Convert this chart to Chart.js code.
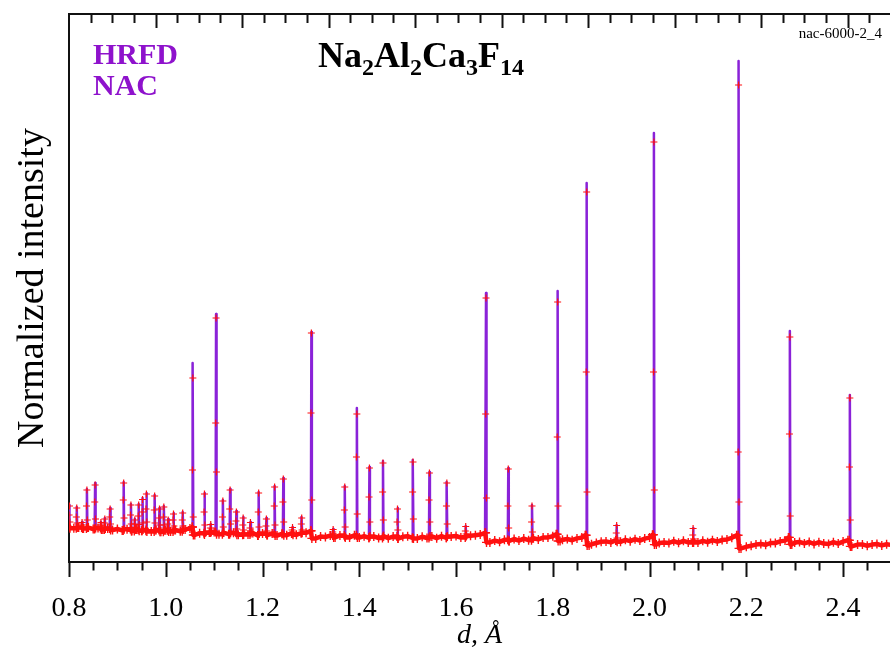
<!DOCTYPE html>
<html>
<head>
<meta charset="utf-8">
<title>Na2Al2Ca3F14 - HRFD</title>
<script src="https://cdn.jsdelivr.net/npm/chart.js@4.4.0/dist/chart.umd.min.js"></script>
<style>
  html, body { margin: 0; padding: 0; background: #fff; overflow: hidden; }
  #wrap { width: 890px; height: 652px; }
</style>
</head>
<body>
<div id="wrap"><canvas id="pattern" width="890" height="652"></canvas></div>
<script>
// --- data ---
// d-axis tick labels (Å)
const X_TICKS = [0.8, 1.0, 1.2, 1.4, 1.6, 1.8, 2.0, 2.2, 2.4];
const X_MIN = 0.8;
const X_MAX = 2.497;
const X_MINOR = 0.05;
// top axis (time-of-flight channel units, unlabeled)
const TOP_MAX = 9.49;
const TOP_MINOR = 0.25;
const Y_MAX = 5480;

// measured background between reflections [d, intensity]
const BACKGROUND = [
  [0.800,352],[0.810,338],[0.820,346],[0.830,334],[0.840,344],[0.850,330],[0.860,340],[0.870,324],
  [0.880,336],[0.890,320],[0.900,330],[0.910,316],[0.920,328],[0.930,310],[0.940,326],[0.950,312],
  [0.960,324],[0.970,306],[0.980,320],[0.990,302],[1.000,318],[1.010,304],[1.020,320],[1.030,308],
  [1.040,326],[1.050,334],[1.055,350],
  [1.060,270],[1.070,288],[1.080,276],[1.090,296],[1.100,300],[1.110,278],[1.120,294],[1.130,278],
  [1.140,292],[1.150,272],[1.160,288],[1.170,274],[1.180,290],[1.190,266],[1.200,284],[1.210,270],
  [1.220,286],[1.230,264],[1.240,282],[1.250,268],[1.260,286],[1.270,272],[1.280,290],[1.290,292],
  [1.300,312],
  [1.310,236],[1.320,254],[1.330,250],[1.340,264],[1.350,246],[1.360,266],[1.370,254],[1.380,246],
  [1.390,268],[1.400,244],[1.410,258],[1.420,242],[1.430,256],[1.440,240],[1.450,258],[1.460,238],
  [1.470,254],[1.480,234],[1.490,252],[1.500,258],[1.510,240],[1.520,236],[1.530,252],[1.540,240],
  [1.550,256],[1.560,238],[1.570,258],[1.580,242],[1.590,254],[1.600,260],[1.610,244],[1.620,258],
  [1.630,262],[1.640,268],[1.650,274],[1.660,292],
  [1.670,196],[1.680,214],[1.690,202],[1.700,222],[1.710,210],[1.720,230],[1.730,214],[1.740,234],
  [1.750,218],[1.760,238],[1.770,226],[1.780,244],[1.790,246],[1.800,258],[1.807,278],
  [1.815,210],[1.820,222],[1.830,230],[1.840,218],[1.850,236],[1.860,244],[1.867,268],
  [1.875,166],[1.880,178],[1.890,190],[1.900,202],[1.910,206],[1.920,196],[1.930,216],[1.940,202],
  [1.950,222],[1.960,208],[1.970,228],[1.980,214],[1.990,234],[2.000,244],[2.006,272],
  [2.014,174],[2.020,190],[2.030,196],[2.040,190],[2.050,208],[2.060,192],[2.070,212],[2.080,196],
  [2.090,214],[2.100,194],[2.110,212],[2.120,198],[2.130,218],[2.140,204],[2.150,220],[2.160,226],
  [2.170,242],[2.180,268],
  [2.189,136],[2.200,152],[2.210,162],[2.220,174],[2.230,180],[2.240,172],[2.250,190],[2.260,190],
  [2.270,206],[2.280,214],[2.287,246],
  [2.294,176],[2.300,194],[2.310,200],[2.320,186],[2.330,200],[2.340,180],[2.350,198],[2.360,184],
  [2.370,180],[2.380,198],[2.390,184],[2.400,204],[2.410,218],
  [2.418,156],[2.430,174],[2.440,176],[2.450,162],[2.460,174],[2.470,180],[2.480,166],[2.490,178],
  [2.500,170]
];

// reflection positions (d, Å) and calculated peak maxima
const PEAK_D = [
  0.801, 0.816, 0.827, 0.837, 0.854, 0.866, 0.874, 0.885, 0.913, 0.928,
  0.936, 0.944, 0.952, 0.960, 0.977, 0.987, 0.996, 1.005, 1.016, 1.035,
  1.056, 1.080, 1.093, 1.104, 1.118, 1.133, 1.146, 1.160, 1.175, 1.192,
  1.208, 1.225, 1.243, 1.262, 1.281, 1.301, 1.346, 1.370, 1.395, 1.421,
  1.449, 1.479, 1.511, 1.545, 1.581, 1.620, 1.662, 1.708, 1.757, 1.810,
  1.870, 1.932, 2.009, 2.090, 2.184, 2.290, 2.414
];
const PEAK_CALC = [
  570, 550, 400, 730, 790, 400, 440, 540, 800, 580,
  430, 580, 640, 690, 670, 540, 560, 430, 490, 500,
  1990, 690, 380, 2480, 620, 730, 510, 450, 400, 700,
  440, 760, 840, 350, 450, 2300, 330, 760, 1540, 950,
  1010, 540, 1020, 900, 800, 360, 2690, 940, 570, 2710,
  3790, 370, 4290, 340, 5010, 2310, 1670
];
// observed points on each reflection: near the top, mid-slope, low on the slope
const OBS_HI = [
  560, 540, 395, 720, 770, 395, 430, 530, 790, 570,
  420, 570, 625, 680, 660, 530, 550, 420, 480, 490,
  1840, 680, 375, 2440, 610, 720, 500, 440, 395, 690,
  430, 750, 830, 345, 440, 2290, 325, 750, 1480, 940,
  990, 530, 1000, 890, 790, 355, 2640, 930, 560, 2600,
  3700, 365, 4200, 335, 4770, 2250, 1640
];
const OBS_MID = [
  470, 450, 370, 560, 600, 370, 390, 450, 620, 470,
  380, 460, 500, 530, 520, 440, 450, 380, 420, 420,
  920, 500, 340, 1390, 450, 530, 410, 370, 340, 500,
  360, 560, 600, 320, 380, 1490, 300, 520, 1050, 650,
  700, 400, 700, 620, 560, 310, 1480, 560, 400, 1250,
  1900, 290, 1900, 270, 1100, 1280, 950
];
const OBS_LO = [
  400, 390, 350, 420, 430, 345, 350, 380, 440, 380,
  345, 375, 390, 400, 390, 370, 370, 340, 360, 360,
  450, 370, 310, 900, 350, 380, 330, 320, 300, 350,
  310, 370, 400, 300, 320, 620, 280, 350, 480, 400,
  420, 320, 430, 400, 380, 280, 640, 340, 300, 560,
  700, 240, 720, 230, 600, 460, 420
];

// header texts
const INSTRUMENT = ['HRFD', 'NAC'];
const FORMULA = [['Na', '2'], ['Al', '2'], ['Ca', '3'], ['F', '14']];
const RUN_LABEL = 'nac-6000-2_4';

// --- styles ---
const SERIF = '"Liberation Serif", "Times New Roman", serif';
const OBS_RED = '#ff1010';
const CALC_PURPLE = '#8a22d8';
const LABEL_PURPLE = '#8e12cc';
const AXIS_COLOR = '#111';
const BASE_HALF = 0.001;

// --- series assembly ---
function bgBefore(d) {
  let v = BACKGROUND[0][1];
  for (const [bd, bi] of BACKGROUND) { if (bd < d) v = bi; else break; }
  return v;
}
function bgAfter(d) {
  for (const [bd, bi] of BACKGROUND) { if (bd > d) return bi; }
  return BACKGROUND[BACKGROUND.length - 1][1];
}

const basePoints = [];
const calcPoints = [];
PEAK_D.forEach((d, i) => {
  const lo = { x: d - BASE_HALF, y: bgBefore(d) };
  const hi = { x: d + BASE_HALF, y: bgAfter(d) };
  basePoints.push(lo, hi);
  calcPoints.push(lo, { x: d, y: PEAK_CALC[i] }, hi);
});
const bgPoints = BACKGROUND.map(([x, y]) => ({ x, y }));
const byX = (a, b) => a.x - b.x;

const calcSeries = bgPoints.concat(calcPoints).sort(byX);
const obsBand = bgPoints.concat(basePoints).sort(byX);
const obsPeaks = [];
PEAK_D.forEach((d, i) => {
  obsPeaks.push({ x: d, y: OBS_HI[i] });
  obsPeaks.push({ x: d - 0.0008, y: OBS_MID[i] });
  obsPeaks.push({ x: d + 0.0008, y: OBS_LO[i] });
});

// --- plugins ---
const frameTicks = {
  id: 'frameTicks',
  afterDraw(chart) {
    const { ctx, chartArea } = chart;
    const xs = chart.scales.x;
    const xt = chart.scales.x2;
    ctx.save();
    ctx.strokeStyle = AXIS_COLOR;
    ctx.lineWidth = 2;
    ctx.beginPath();
    // bottom: ticks hang below the frame
    for (let k = 0; ; k++) {
      const v = X_MIN + k * X_MINOR;
      if (v > X_MAX + 1e-9) break;
      const major = Math.abs(v / 0.2 - Math.round(v / 0.2)) < 1e-6;
      const px = Math.round(xs.getPixelForValue(v)) + 0.5;
      ctx.moveTo(px, chartArea.bottom);
      ctx.lineTo(px, chartArea.bottom + (major ? 15 : 8.5));
    }
    // top: ticks point into the plot
    for (let k = 1; ; k++) {
      const v = k * TOP_MINOR;
      if (v > TOP_MAX) break;
      const major = k % 4 === 0;
      const px = Math.round(xt.getPixelForValue(v)) + 0.5;
      ctx.moveTo(px, chartArea.top);
      ctx.lineTo(px, chartArea.top + (major ? 14 : 9));
    }
    ctx.stroke();
    ctx.restore();
  }
};

const headerTexts = {
  id: 'headerTexts',
  afterDraw(chart) {
    const ctx = chart.ctx;
    ctx.save();
    ctx.textBaseline = 'alphabetic';
    ctx.textAlign = 'left';

    ctx.fillStyle = LABEL_PURPLE;
    ctx.font = 'bold 30px ' + SERIF;
    ctx.fillText(INSTRUMENT[0], 93, 64);
    ctx.fillText(INSTRUMENT[1], 93, 95);

    ctx.fillStyle = '#000';
    let x = 318;
    FORMULA.forEach(([el, n]) => {
      ctx.font = 'bold 36px ' + SERIF;
      ctx.fillText(el, x, 67);
      x += ctx.measureText(el).width;
      ctx.font = 'bold 24px ' + SERIF;
      ctx.fillText(n, x, 75);
      x += ctx.measureText(n).width;
    });

    ctx.font = '15px ' + SERIF;
    ctx.textAlign = 'right';
    ctx.fillText(RUN_LABEL, 882, 38);
    ctx.restore();
  }
};

// horizontal axes run to the canvas edge, no room kept for edge labels
const noSidePadding = (scale) => { scale.paddingLeft = 0; scale.paddingRight = 0; };

// --- chart ---
const ctx = document.getElementById('pattern').getContext('2d');
new Chart(ctx, {
  type: 'line',
  data: {
    datasets: [
      {
        label: 'observed (peaks)',
        data: obsPeaks,
        showLine: false,
        pointStyle: 'cross',
        pointRadius: 3.5,
        pointBorderWidth: 1.2,
        pointBorderColor: OBS_RED,
        order: 1
      },
      {
        label: 'observed',
        data: obsBand,
        borderColor: OBS_RED,
        borderWidth: 4.5,
        borderJoinStyle: 'round',
        borderCapStyle: 'round',
        pointStyle: 'cross',
        pointRadius: 4.5,
        pointBorderWidth: 1.4,
        pointBorderColor: OBS_RED,
        tension: 0,
        order: 2
      },
      {
        label: 'calculated',
        data: calcSeries,
        borderColor: CALC_PURPLE,
        borderWidth: 2.5,
        borderJoinStyle: 'round',
        pointRadius: 0,
        tension: 0,
        order: 3
      }
    ]
  },
  options: {
    responsive: false,
    animation: false,
    devicePixelRatio: 1,
    layout: { padding: 0, autoPadding: false },
    plugins: { legend: { display: false }, tooltip: { enabled: false } },
    scales: {
      x: {
        type: 'linear',
        position: 'bottom',
        min: X_MIN,
        max: X_MAX,
        afterBuildTicks: (scale) => { scale.ticks = X_TICKS.map((v) => ({ value: v })); },
        afterFit: (scale) => { scale.height = 90; noSidePadding(scale); },
        grid: { display: false },
        border: { display: true, color: AXIS_COLOR, width: 2 },
        ticks: {
          color: '#000',
          font: { family: SERIF, size: 28 },
          padding: 22,
          maxRotation: 0,
          autoSkip: false,
          callback: (v) => Number(v).toFixed(1)
        },
        title: {
          display: true,
          text: 'd, Å',
          color: '#000',
          font: { family: SERIF, size: 28, style: 'italic' },
          padding: { top: 0, bottom: 0 }
        }
      },
      x2: {
        type: 'linear',
        position: 'top',
        min: 0,
        max: TOP_MAX,
        afterFit: (scale) => { scale.height = 14; noSidePadding(scale); },
        grid: { display: false },
        border: { display: true, color: AXIS_COLOR, width: 2 },
        ticks: { display: false }
      },
      y: {
        type: 'linear',
        position: 'left',
        min: 0,
        max: Y_MAX,
        afterFit: (scale) => { scale.width = 69; },
        grid: { display: false },
        border: { display: true, color: AXIS_COLOR, width: 2 },
        ticks: { display: false },
        title: {
          display: true,
          text: 'Normalized intensity',
          color: '#000',
          font: { family: SERIF, size: 38 },
          padding: { top: 10, bottom: 0 }
        }
      }
    }
  },
  plugins: [frameTicks, headerTexts]
});
</script>
</body>
</html>
